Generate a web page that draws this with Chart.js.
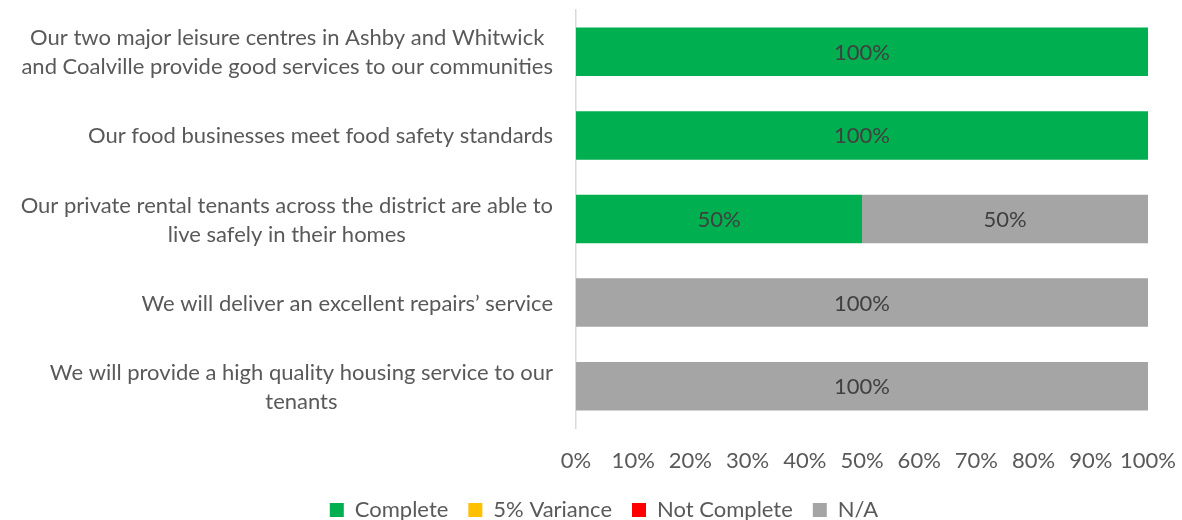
<!DOCTYPE html>
<html>
<head>
<meta charset="utf-8">
<script src="https://cdn.jsdelivr.net/npm/chart.js@4"></script>
<style>
html,body{margin:0;padding:0;background:#fff;}
#wrap{width:1182px;height:520px;position:relative;overflow:hidden;}
</style>
</head>
<body>
<div id="wrap"><canvas id="c" width="1182" height="520"></canvas></div>
<script>
const categories = [
  ["Our two major leisure centres in Ashby and Whitwick", "and Coalville provide good services to our communities"],
  ["Our food businesses meet food safety standards"],
  ["Our private rental tenants across the district are able to", "live safely in their homes"],
  ["We will deliver an excellent repairs\u2019 service"],
  ["We will provide a high quality housing service to our", "tenants"]
];
const seriesNames = ["Complete", "5% Variance", "Not Complete", "N/A"];
const complete = [100, 100, 50, 0, 0];
const variance5 = [0, 0, 0, 0, 0];
const notComplete = [0, 0, 0, 0, 0];
const notApplicable = [0, 0, 50, 100, 100];
const xTicks = [0, 10, 20, 30, 40, 50, 60, 70, 80, 90, 100];

const FONT = "Lato";
const TEXT = "#595959";
const FS = 22;
const PAD_LEFT = 60;

const barLabels = {
  id: "barLabels",
  afterDatasetsDraw(chart) {
    const ctx = chart.ctx;
    ctx.save();
    ctx.font = FS + "px " + FONT;
    ctx.fillStyle = "#404040";
    ctx.textAlign = "center";
    ctx.textBaseline = "middle";
    chart.data.datasets.forEach((ds, i) => {
      const meta = chart.getDatasetMeta(i);
      meta.data.forEach((el, j) => {
        const v = ds.data[j];
        if (!v) return;
        const cx = (el.x + el.base) / 2;
        ctx.fillText(v + "%", cx, el.y + 1);
      });
    });
    ctx.restore();
  }
};

// category labels: block right-aligned, lines centred within block (as in the source)
const catLabels = {
  id: "catLabels",
  afterDraw(chart) {
    const ctx = chart.ctx;
    const scale = chart.scales.y;
    const lh = 29;
    ctx.save();
    ctx.font = FS + "px " + FONT;
    ctx.fillStyle = TEXT;
    ctx.textAlign = "center";
    ctx.textBaseline = "middle";
    const right = scale.right - 23;
    chart.data.labels.forEach((lines, i) => {
      const y = scale.getPixelForTick(i);
      const w = Math.max(...lines.map(l => ctx.measureText(l).width));
      const cx = right - w / 2;
      const y0 = y - (lines.length - 1) * lh / 2;
      lines.forEach((l, k) => ctx.fillText(l, cx, y0 + k * lh + 1));
    });
    ctx.restore();
  }
};

new Chart(document.getElementById("c"), {
  type: "bar",
  data: {
    labels: categories,
    datasets: [
      { label: seriesNames[0], data: complete, backgroundColor: "#00B050" },
      { label: seriesNames[1], data: variance5, backgroundColor: "#FFC000" },
      { label: seriesNames[2], data: notComplete, backgroundColor: "#FF0000" },
      { label: seriesNames[3], data: notApplicable, backgroundColor: "#A5A5A5" }
    ]
  },
  options: {
    indexAxis: "y",
    responsive: false,
    animation: false,
    devicePixelRatio: 1,
    datasets: { bar: { categoryPercentage: 1, barPercentage: 0.58 } },
    layout: { padding: { top: 10, right: 34, bottom: -11, left: PAD_LEFT } },
    scales: {
      x: {
        stacked: true,
        min: 0, max: 100,
        afterBuildTicks(scale) { scale.ticks = xTicks.map(v => ({ value: v })); },
        grid: { display: false, drawTicks: false },
        border: { display: false },
        ticks: {
          color: TEXT,
          font: { family: FONT, size: FS },
          padding: 20,
          maxRotation: 0,
          autoSkip: false,
          callback: v => v + "%"
        },
        afterFit(scale) { scale.height = 51; scale.paddingRight = 0; scale.paddingLeft = 0; }
      },
      y: {
        stacked: true,
        grid: { display: false, drawTicks: false },
        border: { display: true, color: "#D9D9D9", width: 1.5 },
        ticks: { display: false },
        afterFit(scale) { scale.width = 576 - PAD_LEFT; scale.paddingTop = 0; scale.paddingBottom = 0; }
      }
    },
    plugins: {
      legend: {
        position: "bottom",
        labels: {
          color: TEXT,
          font: { family: FONT, size: FS },
          boxWidth: 14,
          boxHeight: 14,
          padding: 20
        }
      },
      tooltip: { enabled: false }
    }
  },
  plugins: [barLabels, catLabels]
});
</script>
</body>
</html>
